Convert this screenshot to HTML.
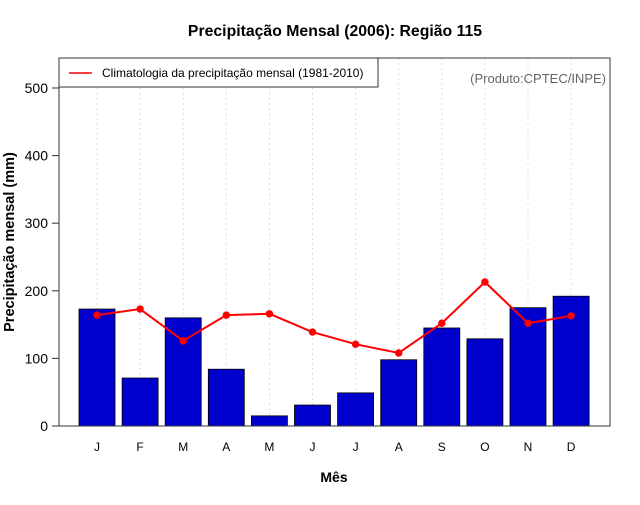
<!DOCTYPE html>
<html><head><meta charset="utf-8"><style>
body{margin:0;background:#fff}
svg{font-family:"Liberation Sans",sans-serif}
</style></head><body>
<svg id="c" width="640" height="500">
<text x="335" y="36" text-anchor="middle" font-size="15.8" font-weight="bold">Precipitação Mensal (2006): Região 115</text>
<text x="334" y="482" text-anchor="middle" font-size="14" font-weight="bold">Mês</text>
<text transform="translate(14,242) rotate(-90)" text-anchor="middle" font-size="14.5" font-weight="bold">Precipitação mensal (mm)</text>
<g id="grid"></g><g id="bars"></g><g id="line"></g><g id="axes"></g>
<rect x="59" y="58" width="551" height="368" fill="none" stroke="#333"/>
<g>
<rect x="59" y="58" width="319" height="29" fill="#fff" stroke="#333"/>
<line x1="69" y1="73" x2="92" y2="73" stroke="red" stroke-width="1.5"/>
<text x="102" y="77" font-size="12">Climatologia da precipitação mensal (1981-2010)</text>
</g>
<text x="606" y="83" text-anchor="end" font-size="13" fill="#666">(Produto:CPTEC/INPE)</text>
</svg>
<script>
const months=["J","F","M","A","M","J","J","A","S","O","N","D"];
const precip=[173,71,160,84,15,31,49,98,145,129,175,192];
const clim=[164,173,126,164,166,139,121,108,152,213,152,163];
const yTicks=[0,100,200,300,400,500];
const NS="http://www.w3.org/2000/svg";
const xs=i=>97+i*43.1, ys=v=>426-v*0.676;
function mk(t,a,p){const e=document.createElementNS(NS,t);for(const k in a)e.setAttribute(k,a[k]);p.appendChild(e);return e;}
const G=document.getElementById('grid'),B=document.getElementById('bars'),L=document.getElementById('line'),A=document.getElementById('axes');
months.forEach((m,i)=>{
 const g=mk('line',{x1:xs(i),x2:xs(i),y1:58,y2:426,stroke:'#ddd','stroke-dasharray':'2,3'},G);
 
 
 const t=mk('text',{x:xs(i),y:451,'text-anchor':'middle','font-size':12},A);t.textContent=m;
 
 
 const b=mk('rect',{x:xs(i)-18,y:ys(precip[i]),width:36,height:precip[i]*0.676,fill:'#0000cd',stroke:'#000','stroke-width':0.8},B);
 
 
});
const pl=mk('polyline',{points:clim.map((v,i)=>xs(i)+','+ys(v)).join(' '),fill:'none',stroke:'red','stroke-width':2},L);


clim.forEach((v,i)=>{const c=mk('circle',{cx:xs(i),cy:ys(v),r:3.7,fill:'red'},L);
 
 });
yTicks.forEach(v=>{
 mk('line',{x1:52,x2:59,y1:ys(v),y2:ys(v),stroke:'#333'},A);
 const t=mk('text',{x:48,y:ys(v)+5,'text-anchor':'end','font-size':14},A);t.textContent=v;
 
 
});
</script>
</body></html>
